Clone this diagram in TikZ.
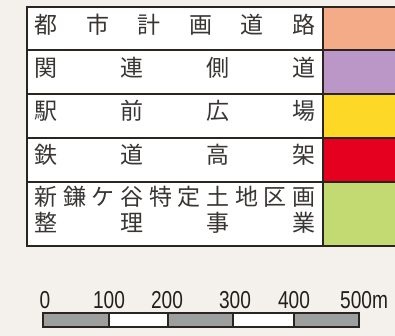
\documentclass[tikz,border=0pt]{standalone}
\usepackage{fontspec}
\newfontfamily\cjk{Noto Sans CJK JP}
\newfontfamily\numf{Liberation Sans}
\definecolor{bg}{HTML}{F4F0EB}
\definecolor{linec}{HTML}{2B2522}
\definecolor{txt}{HTML}{383533}
\definecolor{numc}{HTML}{231F1D}
\definecolor{cA}{HTML}{F4AC88}
\definecolor{cB}{HTML}{BA97C7}
\definecolor{cC}{HTML}{FDD826}
\definecolor{cD}{HTML}{E50020}
\definecolor{cE}{HTML}{C3DA72}
\definecolor{barg}{HTML}{9D9F9E}
\begin{document}
\begin{tikzpicture}[x=1pt,y=-1pt,
  jp/.style={inner sep=0pt,text=txt,font=\cjk\fontsize{23}{23}\selectfont,text height=0.88em,text depth=0.12em},
  num/.style={inner sep=0pt,text=numc,anchor=base,font=\numf\fontsize{24.5}{24.5}\selectfont,xscale=0.78},
  rule/.style={draw=linec,line width=1.8pt},
  seg/.style={draw=linec,line width=1.3pt}]
\fill[bg] (0,0) rectangle (395,336);
\useasboundingbox (0,0) rectangle (395,336);
% white table body
\fill[white] (27,7) rectangle (323,246);
% swatches
\fill[cA] (323,7) rectangle (395,50);
\fill[cB] (323,50) rectangle (395,94);
\fill[cC] (323,94) rectangle (395,138);
\fill[cD] (323,138) rectangle (395,182);
\fill[cE] (323,182) rectangle (395,246);
% rules
\foreach \yy in {7,50,94,138,182} \draw[rule] (27,\yy) -- (395,\yy);
\draw[draw=linec,line width=2.6pt] (26.1,246) -- (395,246);
\draw[rule] (27,6.1) -- (27,247.3);
\draw[rule] (323,7) -- (323,246);
% texts
\foreach \ch [count=\i from 0] in {都,市,計,画,道,路}
  \node[jp] (ra\i) at (46+\i*51.6,30) {\ch};
\foreach \ch [count=\i from 0] in {関,連,側,道}
  \node[jp] (rb\i) at (46+\i*86,73) {\ch};
\foreach \ch [count=\i from 0] in {駅,前,広,場}
  \node[jp] (rc\i) at (46+\i*86,116) {\ch};
\foreach \ch [count=\i from 0] in {鉄,道,高,架}
  \node[jp] (rd\i) at (46+\i*86,160) {\ch};
\foreach \ch [count=\i from 0] in {新,鎌,ケ,谷,特,定,土,地,区,画}
  \node[jp] (re\i) at (46+\i*28.67,202) {\ch};
\foreach \ch [count=\i from 0] in {整,理,事,業}
  \node[jp] (rf\i) at (46+\i*86,228) {\ch};
% scale bar
\filldraw[fill=barg,seg] (43,313) rectangle (109,327);
\filldraw[fill=white,seg] (109,313) rectangle (168,327);
\filldraw[fill=barg,seg] (168,313) rectangle (233,327);
\filldraw[fill=white,seg] (233,313) rectangle (294,327);
\filldraw[fill=barg,seg] (294,313) rectangle (359,327);
\node[num] (s0) at (45,308) {0};
\node[num] (s1) at (109,308) {100};
\node[num] (s2) at (167,308) {200};
\node[num] (s3) at (235,308) {300};
\node[num] (s4) at (294,308) {400};
\node[num,anchor=base west] (s5) at (340,308) {500m};
\end{tikzpicture}
\end{document}
